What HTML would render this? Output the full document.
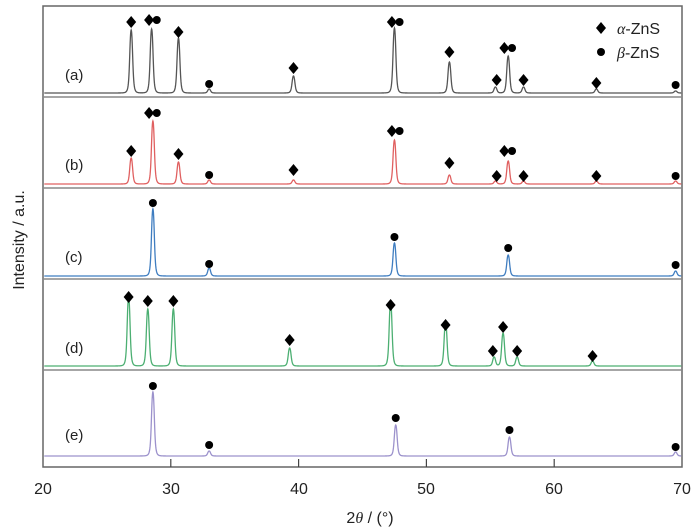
<!DOCTYPE html>
<html><head><meta charset="utf-8"><style>
html,body{margin:0;padding:0;background:#fff;}
svg{display:block;font-family:"Liberation Sans",sans-serif;}
</style></head><body>
<svg id="s" width="700" height="530" xmlns="http://www.w3.org/2000/svg">
<rect x="43" y="6" width="639" height="461" fill="none" stroke="#666" stroke-width="1.5"/>
<g stroke="#888" stroke-width="1.5">
<line x1="43" y1="97" x2="682" y2="97"/>
<line x1="43" y1="188" x2="682" y2="188"/>
<line x1="43" y1="279" x2="682" y2="279"/>
<line x1="43" y1="370" x2="682" y2="370"/>
</g>
<g stroke="#444" stroke-width="1.2">
<line x1="170.8" y1="467" x2="170.8" y2="459"/>
<line x1="298.6" y1="467" x2="298.6" y2="459"/>
<line x1="426.4" y1="467" x2="426.4" y2="459"/>
<line x1="554.2" y1="467" x2="554.2" y2="459"/>
</g>
<g font-size="16" fill="#222" text-anchor="middle">
<text x="43" y="494">20</text><text x="171" y="494">30</text><text x="299" y="494">40</text>
<text x="426" y="494">50</text><text x="554" y="494">60</text><text x="682" y="494">70</text>
</g>
<text x="370" y="523" font-size="16" text-anchor="middle" fill="#222">2<tspan font-style="italic" font-family="Liberation Serif,serif">θ</tspan> / (°)</text>
<text transform="translate(24,240) rotate(-90)" font-size="16" text-anchor="middle" fill="#222">Intensity / a.u.</text>
<g font-size="15" fill="#222">
<text x="65" y="80">(a)</text><text x="65" y="170">(b)</text><text x="65" y="262">(c)</text>
<text x="65" y="353">(d)</text><text x="65" y="440">(e)</text>
</g>
<g font-size="16" fill="#222">
<text x="617" y="34"><tspan font-style="italic" font-family="Liberation Serif,serif">α</tspan>-ZnS</text>
<text x="617" y="58"><tspan font-style="italic" font-family="Liberation Serif,serif">β</tspan>-ZnS</text>
</g>
<g id="g"></g>
</svg>
<script>
var X=function(t){return 43+(t-20)*12.78;};
var S=[
 {c:"#555",b:93,p:[[26.9,30],[28.5,29],[30.6,38],[33,89],[39.6,76],[47.5,28],[51.8,62],[55.4,87],[56.4,56],[57.6,87],[63.3,89],[69.5,91]],
  m:[[26.9,22,'d'],[28.3,20,'d'],[28.9,20,'c'],[30.6,32,'d'],[33,84,'c'],[39.6,68,'d'],[47.3,22,'d'],[47.9,22,'c'],[51.8,52,'d'],[55.5,80,'d'],[56.1,48,'d'],[56.7,48,'c'],[57.6,80,'d'],[63.3,83,'d'],[69.5,85,'c']]},
 {c:"#e06060",b:184,p:[[26.9,158],[28.6,121],[30.6,162],[33,180],[39.6,180],[47.5,140],[51.8,175],[55.4,181],[56.4,161],[57.6,181],[63.3,181],[69.5,181]],
  m:[[26.9,151,'d'],[28.3,113,'d'],[28.9,113,'c'],[30.6,154,'d'],[33,175,'c'],[39.6,170,'d'],[47.3,131,'d'],[47.9,131,'c'],[51.8,163,'d'],[55.5,176,'d'],[56.1,151,'d'],[56.7,151,'c'],[57.6,176,'d'],[63.3,176,'d'],[69.5,176,'c']]},
 {c:"#3f7dc0",b:276,p:[[28.6,209],[33,268],[47.5,243],[56.4,255],[69.5,271]],
  m:[[28.6,203,'c'],[33,264,'c'],[47.5,237,'c'],[56.4,248,'c'],[69.5,265,'c']]},
 {c:"#4caf72",b:366,p:[[26.7,297],[28.2,309],[30.2,309],[39.3,348],[47.2,302],[51.5,322],[55.3,357],[56.0,333],[57.1,357],[63.0,361]],
  m:[[26.7,297,'d'],[28.2,301,'d'],[30.2,301,'d'],[39.3,340,'d'],[47.2,305,'d'],[51.5,325,'d'],[55.2,351,'d'],[56.0,327,'d'],[57.1,351,'d'],[63.0,356,'d']]},
 {c:"#9c92cc",b:456,p:[[28.6,392],[33,451],[47.6,425],[56.5,437],[69.5,452]],
  m:[[28.6,386,'c'],[33,445,'c'],[47.6,418,'c'],[56.5,430,'c'],[69.5,447,'c']]}
];
var g=document.getElementById('g'),h='';
S.forEach(function(s){
 var d='';
 for(var t=20.1;t<=69.95;t+=0.02){
  var y=s.b;
  s.p.forEach(function(p){var w=0.13,dx=(t-p[0])/w;y-=(s.b-p[1])/(1+dx*dx*dx*dx*0.5+dx*dx*0.5);});
  d+=(d?'L':'M')+X(t).toFixed(2)+' '+y.toFixed(2);
 }
 h+='<path d="'+d+'" fill="none" stroke="'+s.c+'" stroke-width="1.3"/>';
 s.m.forEach(function(m){var x=X(m[0]),y=m[1];
  if(m[2]=='d')h+='<polygon points="'+x+','+(y-6)+' '+(x+5)+','+y+' '+x+','+(y+6)+' '+(x-5)+','+y+'" fill="#000"/>';
  else h+='<circle cx="'+x+'" cy="'+y+'" r="4" fill="#000"/>';});
});
h+='<polygon points="601,22 606,28 601,34 596,28" fill="#000"/><circle cx="601" cy="52" r="4" fill="#000"/>';
g.innerHTML=h;
</script>
</body></html>
